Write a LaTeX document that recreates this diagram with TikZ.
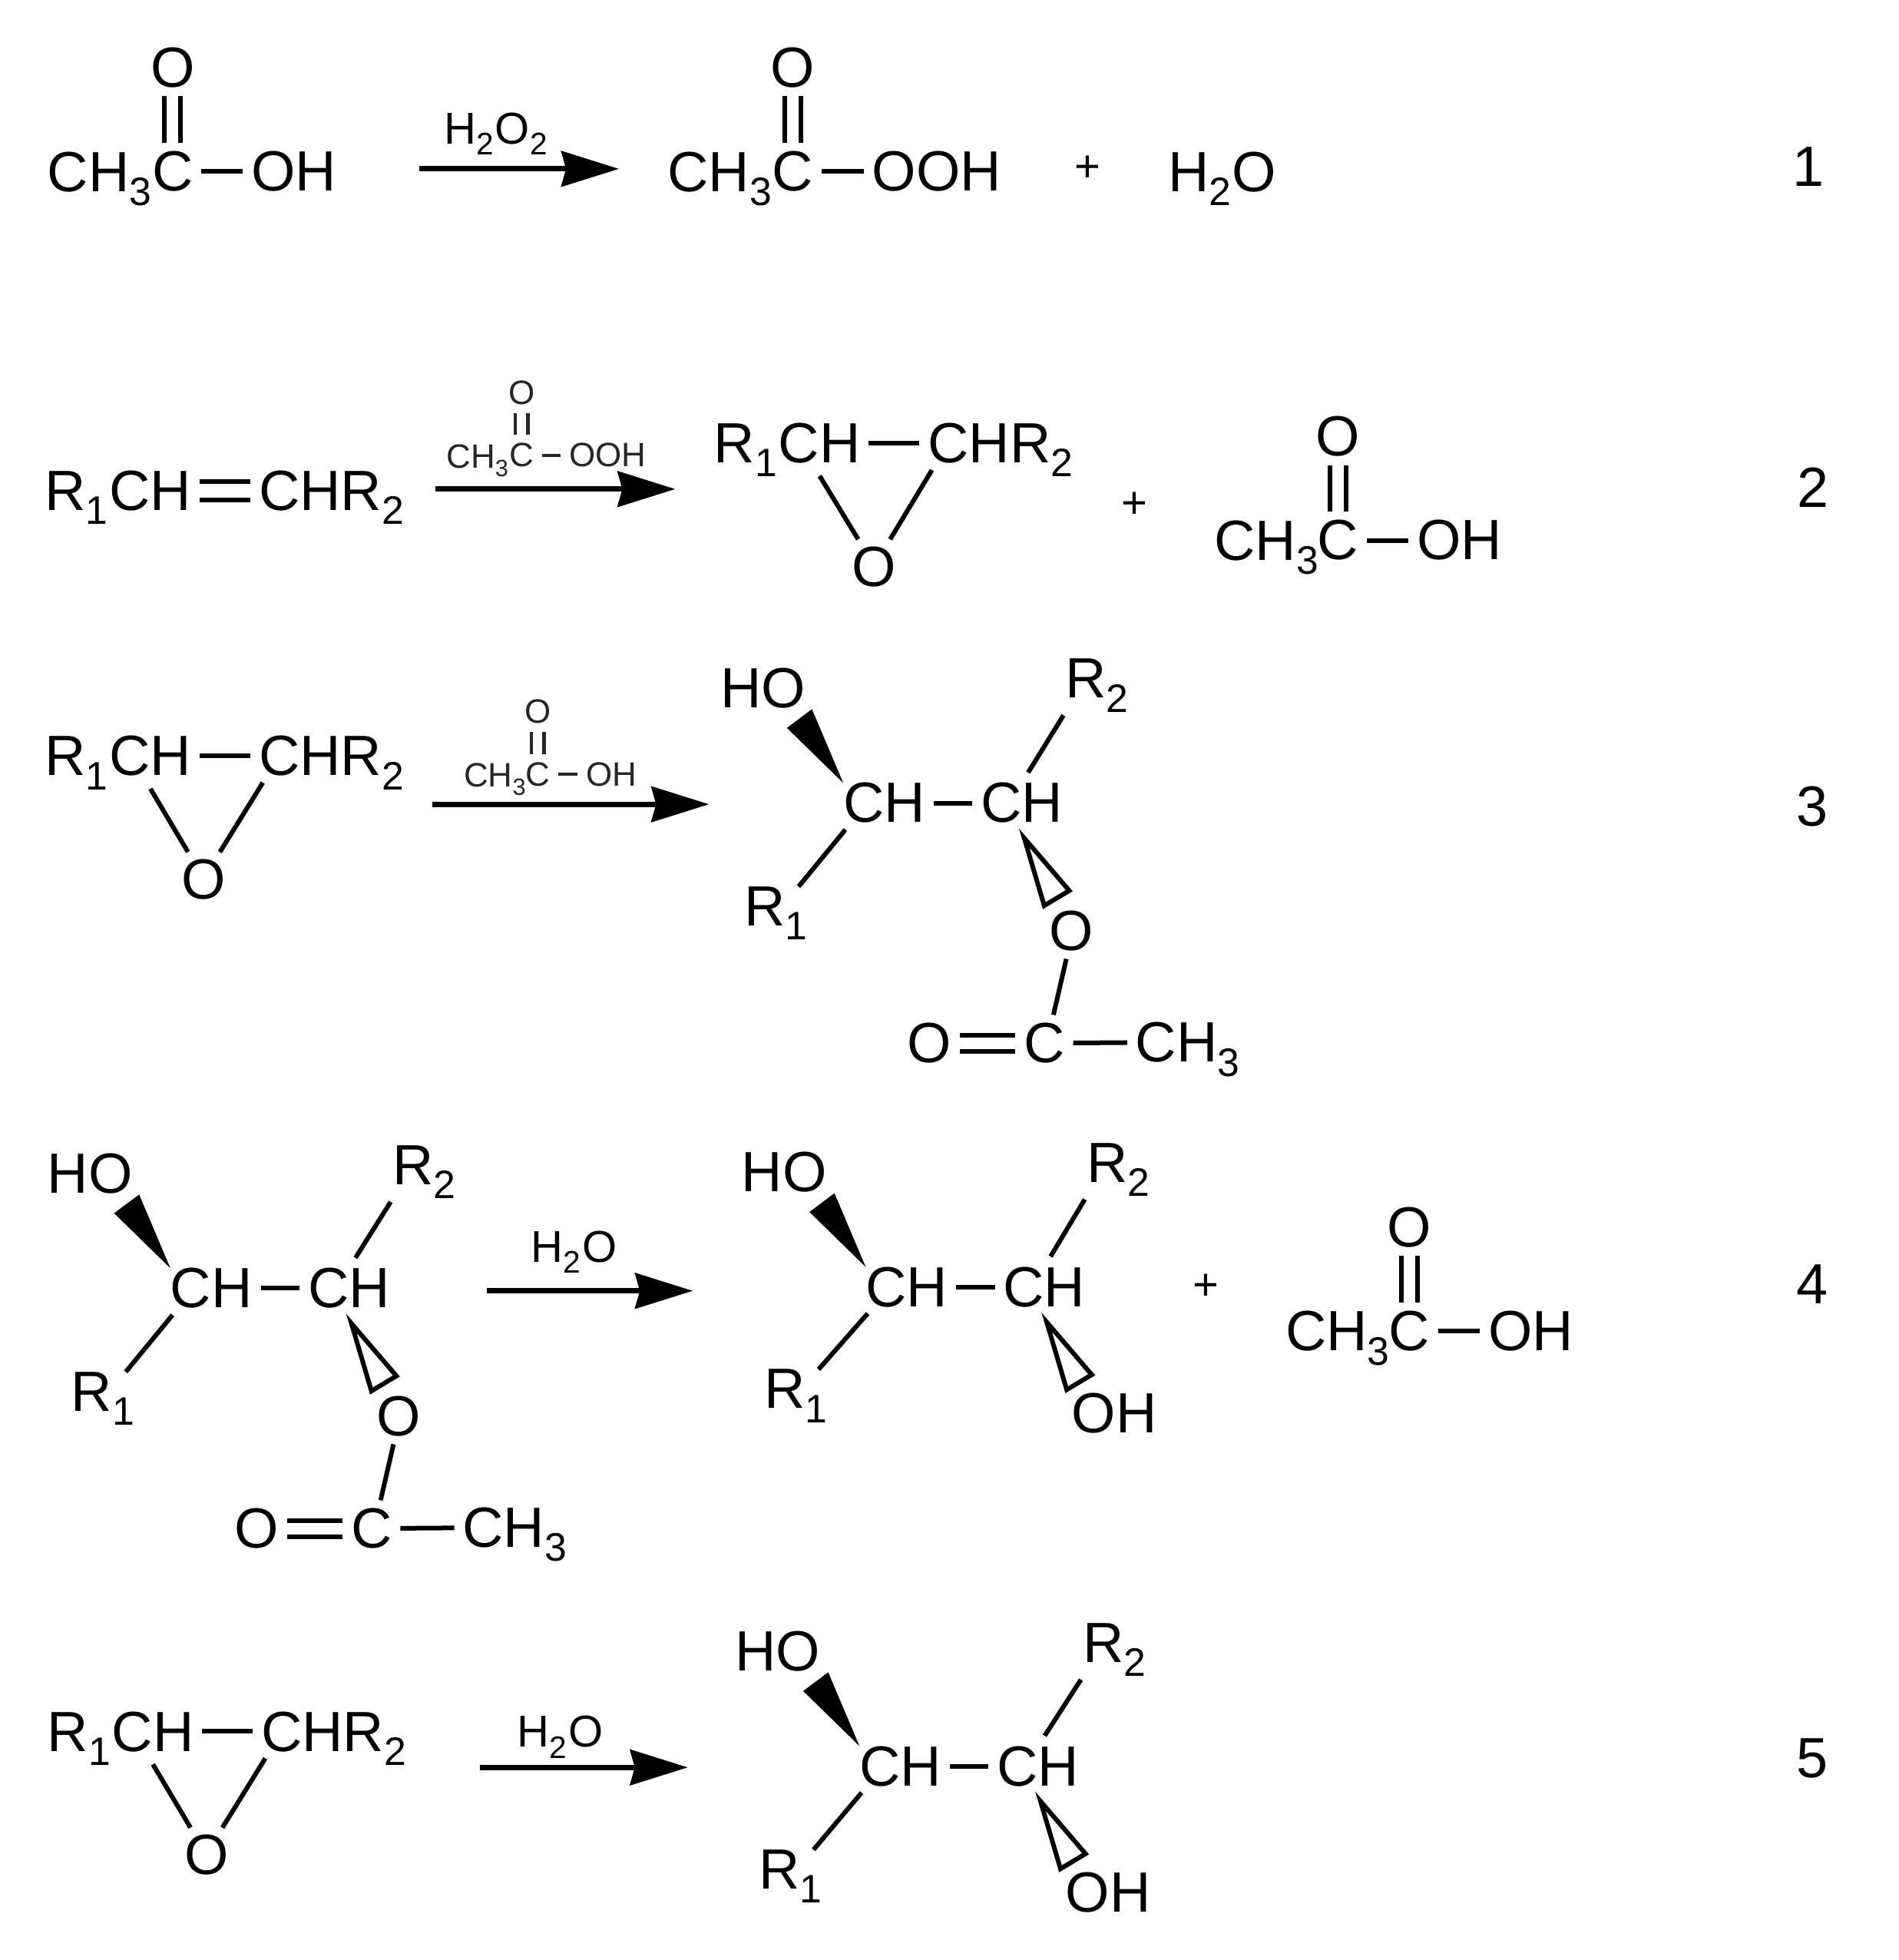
\documentclass[tikz,border=0pt]{standalone}
\usepackage{fontspec}
\setmainfont{Liberation Sans}
\usetikzlibrary{arrows.meta}
\newcommand{\subs}[1]{\raisebox{-.1em}{\textsubscript{#1}}}
\tikzset{
	atom/.style={inner sep=0pt,outer sep=0pt,font=\fontsize{21}{25}\selectfont},
	atomr/.style={atom,anchor=base west},
	atomw/.style={atomr,text depth=0pt},
	mid/.style={inner sep=0pt,outer sep=0pt,font=\fontsize{16.5}{20}\selectfont},
	reag/.style={inner sep=0pt,outer sep=0pt,text=black!85,font=\fontsize{12.5}{15}\selectfont},
	reagw/.style={reag,anchor=base west,text depth=0pt},
	bond/.style={line width=0.6mm,shorten <=1.1mm,shorten >=1.1mm},
	lbond/.style={bond,shorten >=0pt},
	ubond/.style={bond,shorten <=1.6mm,shorten >=0.5mm},
	ebond/.style={bond,shorten <=2mm},
	dbl/.style={bond,double,double distance=1.5mm},
	rbond/.style={bond,draw=black!85,line width=0.45mm},
	rdbl/.style={rbond,double,double distance=1.2mm},
	rxn/.style={line width=0.7mm,-{Stealth[length=7.5mm,width=4.6mm,inset=0.6mm]}},
	open/.style={line width=0.6mm,line join=miter}
}
\begin{document}
\begin{tikzpicture}[x=0.1628mm,y=-0.1628mm]
	\useasboundingbox (0,0) rectangle (1518,1567);

	\node[atom] (ao) at (138,54) {O};
	\node[atom] (ac) at (138,137) {C};
	\node[atomw] (am) at (38,153) {CH\subs{3}};
	\node[atom] (ah) at (235,137) {OH};
	\draw[dbl] (ao) -- (ac);
	\draw[bond] (ac) -- (ah);
	\node[mid] (la) at (397,107) {H\subs{2}O\subs{2}};
	\coordinate (s1) at (335,135);
	\coordinate (e1) at (495,135);
	\draw[rxn] (s1) -- (e1);
	\node[atom] (bo) at (634,54) {O};
	\node[atom] (bc) at (634,137) {C};
	\node[atomw] (bm) at (534,153) {CH\subs{3}};
	\node[atom] (bh) at (749,137) {OOH};
	\draw[dbl] (bo) -- (bc);
	\draw[bond] (bc) -- (bh);
	\node[mid] (p1) at (870,135) {+};
	\node[atomw] (w1) at (934,153) {H\subs{2}O};
	\node[atom] (n1) at (1446,133) {1};

	\node[atomw] (ol) at (36,408) {R\subs{1}CH};
	\node[atomw] (or) at (207,408) {CHR\subs{2}};
	\draw[dbl,double distance=1.8mm] (ol) -- (or);
	\node[reag] (ro) at (417,314) {O};
	\node[reag] (rc) at (417,364) {C};
	\node[reagw] (rm) at (357,374) {CH\subs{3}};
	\node[reag] (rh) at (486,364) {OOH};
	\draw[rdbl] (ro) -- (rc);
	\draw[rbond] (rc) -- (rh);
	\coordinate (s2) at (348,391);
	\coordinate (e2) at (540,391);
	\draw[rxn] (s2) -- (e2);
	\node[atomw] (el) at (571,370) {R\subs{1}CH};
	\node[atomw] (er) at (742,370) {CHR\subs{2}};
	\node[atom] (eo) at (699,453) {O};
	\draw[bond] (el) -- (er);
	\draw[ebond] (el.-39) -- (eo.120);
	\draw[bond] (er.-163) -- (eo.60);
	\node[mid] (p2) at (907,404) {+};
	\node[atom] (co) at (1070,349) {O};
	\node[atom] (cc) at (1070,432) {C};
	\node[atomw] (cm) at (971,448) {CH\subs{3}};
	\node[atom] (ch) at (1167,432) {OH};
	\draw[dbl] (co) -- (cc);
	\draw[bond] (cc) -- (ch);
	\node[atom] (n2) at (1450,390) {2};

	\node[atomw] (fl) at (36,620) {R\subs{1}CH};
	\node[atomw] (fr) at (207,620) {CHR\subs{2}};
	\node[atom] (fo) at (163,703) {O};
	\draw[bond] (fl) -- (fr);
	\draw[ebond] (fl.-39) -- (fo.120);
	\draw[bond] (fr.-163) -- (fo.60);
	\node[reag] (so) at (430,569) {O};
	\node[reag] (sc) at (430,619) {C};
	\node[reagw] (sm) at (371,629) {CH\subs{3}};
	\node[reag] (sh) at (489,619) {OH};
	\draw[rdbl] (so) -- (sc);
	\draw[rbond] (sc) -- (sh);
	\coordinate (s3) at (346,643);
	\coordinate (e3) at (567,643);
	\draw[rxn] (s3) -- (e3);
	\node[atom] (g1) at (707,642) {CH};
	\node[atom] (g2) at (817,642) {CH};
	\node[atom] (gh) at (610,550) {HO};
	\node[atomr] (ga) at (595,740) {R\subs{1}};
	\node[atomr] (gb) at (852,558) {R\subs{2}};
	\node[atom] (go) at (857,744) {O};
	\node[atom] (gc) at (835,834) {C};
	\node[atom] (gd) at (743,834) {O};
	\node[atomw] (gm) at (908,849) {CH\subs{3}};
	\draw[bond] (g1) -- (g2);
	\draw[lbond] (g1.211) -- (ga.50);
	\draw[ubond] (g2.north) -- (gb.south west);
	\fill (g1.north west) -- ++(-45,-44) -- ++(20,-15) -- cycle;
	\draw[open] (g2.south) ++(2,12) -- ++(16,54) -- ++(20,-12) -- cycle;
	\draw[bond] (go.-100) -- (gc.70);
	\draw[dbl] (gd) -- (gc);
	\draw[bond] (gc) -- (gm);
	\node[atom] (n3) at (1449,645) {3};

	\node[atom] (h1) at (169,1030) {CH};
	\node[atom] (h2) at (279,1030) {CH};
	\node[atom] (hh) at (72,938) {HO};
	\node[atomr] (ha) at (57,1128) {R\subs{1}};
	\node[atomr] (hb) at (314,947) {R\subs{2}};
	\node[atom] (ho) at (319,1132) {O};
	\node[atom] (hc) at (297,1222) {C};
	\node[atom] (hd) at (205,1222) {O};
	\node[atomw] (hm) at (370,1237) {CH\subs{3}};
	\draw[bond] (h1) -- (h2);
	\draw[lbond] (h1.211) -- (ha.50);
	\draw[ubond] (h2.north) -- (hb.south west);
	\fill (h1.north west) -- ++(-45,-44) -- ++(20,-15) -- cycle;
	\draw[open] (h2.south) ++(2,12) -- ++(16,54) -- ++(20,-12) -- cycle;
	\draw[bond] (ho.-100) -- (hc.70);
	\draw[dbl] (hd) -- (hc);
	\draw[bond] (hc) -- (hm);
	\node[mid] (lb) at (459,1001) {H\subs{2}O};
	\coordinate (s4) at (389,1032);
	\coordinate (e4) at (554,1032);
	\draw[rxn] (s4) -- (e4);
	\node[atom] (i1) at (725,1029) {CH};
	\node[atom] (i2) at (835,1029) {CH};
	\node[atom] (ih) at (627,937) {HO};
	\node[atomr] (ia) at (611,1126) {R\subs{1}};
	\node[atomr] (ib) at (869,945) {R\subs{2}};
	\node[atom] (io) at (891,1130) {OH};
	\draw[bond] (i1) -- (i2);
	\draw[lbond] (i1.211) -- (ia.50);
	\draw[ubond] (i2.north) -- (ib.south west);
	\fill (i1.north west) -- ++(-45,-44) -- ++(20,-15) -- cycle;
	\draw[open] (i2.south) ++(2,12) -- ++(16,54) -- ++(20,-12) -- cycle;
	\node[mid] (p4) at (964,1029) {+};
	\node[atom] (jo) at (1127,981) {O};
	\node[atom] (jc) at (1127,1064) {C};
	\node[atomw] (jm) at (1028,1080) {CH\subs{3}};
	\node[atom] (jh) at (1224,1064) {OH};
	\draw[dbl] (jo) -- (jc);
	\draw[bond] (jc) -- (jh);
	\node[atom] (n4) at (1449,1027) {4};

	\node[atomw] (kl) at (38,1400) {R\subs{1}CH};
	\node[atomw] (kr) at (209,1400) {CHR\subs{2}};
	\node[atom] (ko) at (165,1483) {O};
	\draw[bond] (kl) -- (kr);
	\draw[ebond] (kl.-39) -- (ko.120);
	\draw[bond] (kr.-163) -- (ko.60);
	\node[mid] (lc) at (448,1389) {H\subs{2}O};
	\coordinate (s5) at (384,1413);
	\coordinate (e5) at (550,1413);
	\draw[rxn] (s5) -- (e5);
	\node[atom] (m1) at (720,1412) {CH};
	\node[atom] (m2) at (830,1412) {CH};
	\node[atom] (mh) at (622,1320) {HO};
	\node[atomr] (ma) at (607,1510) {R\subs{1}};
	\node[atomr] (mb) at (866,1329) {R\subs{2}};
	\node[atom] (mo) at (886,1513) {OH};
	\draw[bond] (m1) -- (m2);
	\draw[lbond] (m1.211) -- (ma.50);
	\draw[ubond] (m2.north) -- (mb.south west);
	\fill (m1.north west) -- ++(-45,-44) -- ++(20,-15) -- cycle;
	\draw[open] (m2.south) ++(2,12) -- ++(16,54) -- ++(20,-12) -- cycle;
	\node[atom] (n5) at (1449,1406) {5};
\end{tikzpicture}
\end{document}
